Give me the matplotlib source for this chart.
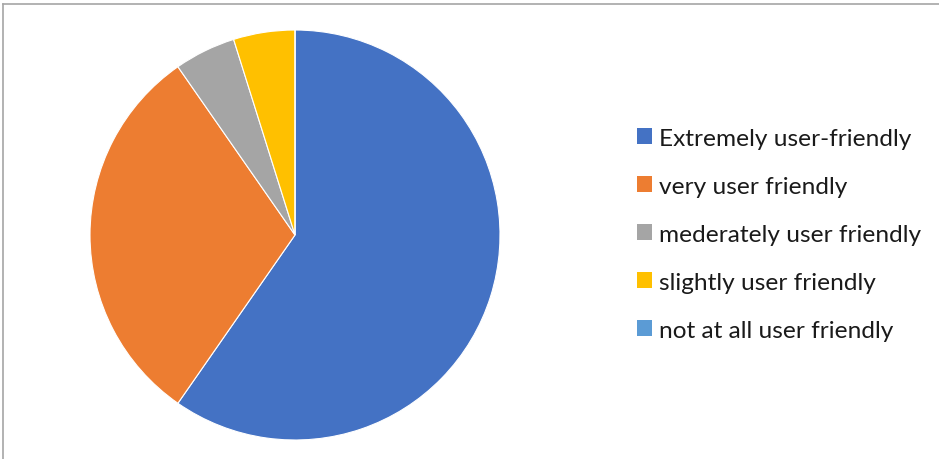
import matplotlib
matplotlib.use("Agg")
import matplotlib.pyplot as plt
from matplotlib.patches import Patch
from matplotlib.lines import Line2D

# survey answers
labels = ["Extremely user-friendly", "very user friendly",
          "mederately user friendly", "slightly user friendly",
          "not at all user friendly"]
counts = [37, 19, 3, 3, 0]
colors = ["#4472C4", "#ED7D31", "#A5A5A5", "#FFC000", "#5B9BD5"]

plt.rcParams['font.family'] = ['Lato', 'DejaVu Sans']

fig = plt.figure(figsize=(9.39, 4.60), dpi=100)
ax = fig.add_axes([90/939, 19/460, 410/939, 410/460])
ax.pie(counts, colors=colors, startangle=90, counterclock=False, radius=1,
       wedgeprops=dict(edgecolor='white', linewidth=0.8))
ax.set_xlim(-1, 1)
ax.set_ylim(-1, 1)
ax.set_aspect('equal')
ax.axis('off')

# chart area frame (top and left edges)
fig.add_artist(Line2D([3/939, 3/939], [0, 1 - 5/460], color='#A6A6A6', lw=1.2))
fig.add_artist(Line2D([3/939, 1], [1 - 5/460, 1 - 5/460], color='#A6A6A6', lw=1.2))

handles = [Patch(facecolor=c, edgecolor='none') for c in colors]
leg = fig.legend(handles, labels, loc='upper left',
                 bbox_to_anchor=(637/939, 1 - 129/460), frameon=False,
                 fontsize=17.6, handlelength=0.62, handleheight=0.62,
                 handletextpad=0.3, labelspacing=1.1, borderaxespad=0,
                 borderpad=0)
for t in leg.get_texts():
    t.set_color('#1A1A1A')

fig.savefig("out.png", dpi=100, facecolor='white')
